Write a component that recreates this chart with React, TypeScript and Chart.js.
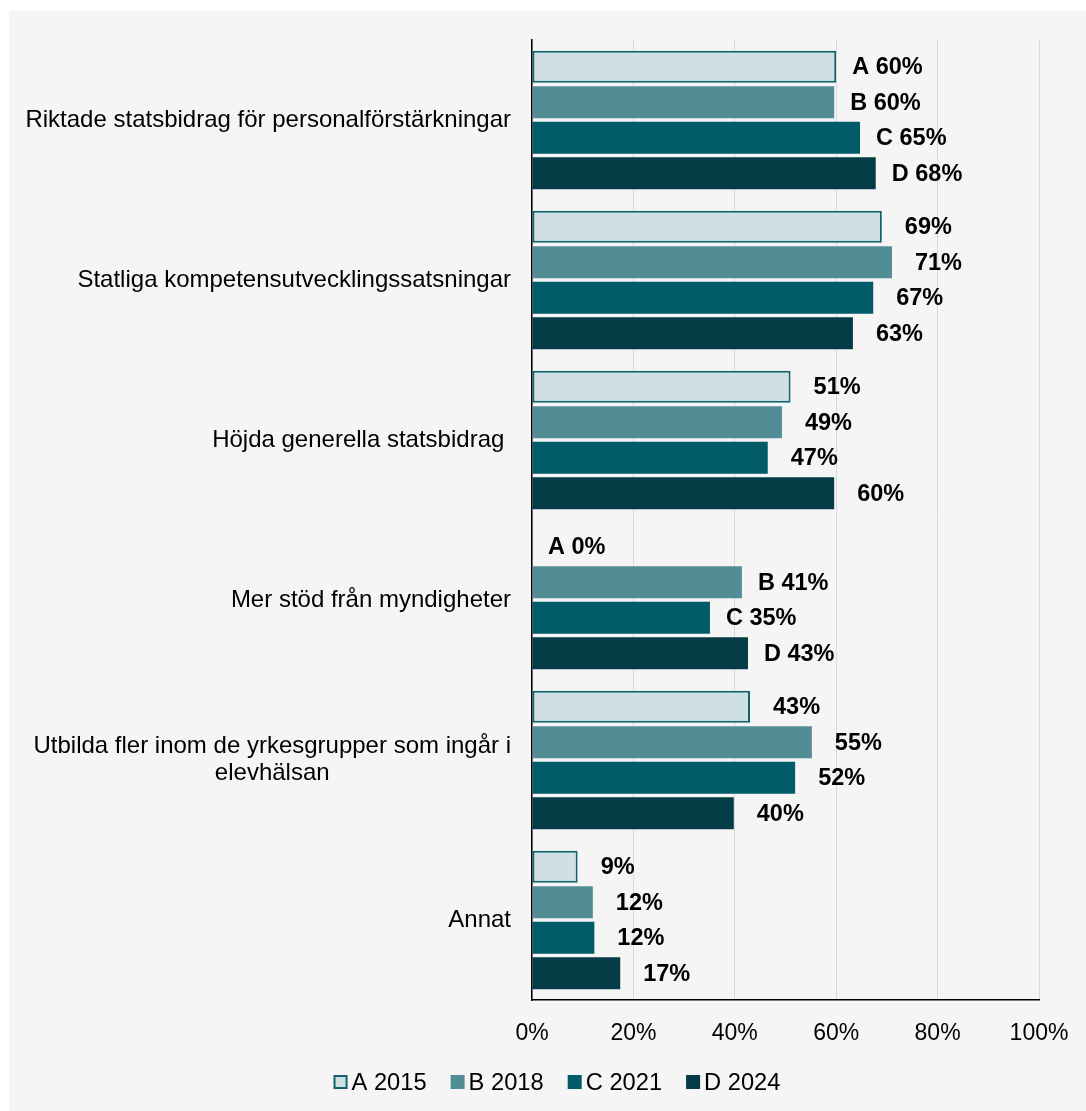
import React, { useEffect, useRef } from "react";
import { Chart, registerables } from "chart.js";

Chart.register(...registerables);

const categories = [
  "Riktade statsbidrag för personalförstärkningar",
  "Statliga kompetensutvecklingssatsningar",
  "Höjda generella statsbidrag ",
  "Mer stöd från myndigheter",
  "Utbilda fler inom de yrkesgrupper som ingår i\nelevhälsan",
  "Annat",
];
const seriesNames = ["A 2015", "B 2018", "C 2021", "D 2024"];
const seriesLetters = ["A", "B", "C", "D"];
const valuesA = [60, 69, 51, 0, 43, 9];
const valuesB = [59.6, 71, 49.3, 41.4, 55.2, 12];
const valuesC = [64.7, 67.3, 46.5, 35.1, 51.9, 12.3];
const valuesD = [67.8, 63.3, 59.6, 42.6, 39.8, 17.4];
const showLetter = [true, false, false, true, false, false];
const xTicks = [0, 20, 40, 60, 80, 100];

const fills = ["#cfe0e4", "#528d95", "#025b68", "#033c45"];
const borders = ["#13636f", "#528d95", "#025b68", "#033c45"];
const borderWidths = [2, 0, 0, 0];

const FONT = '"Liberation Sans", Arial, sans-serif';

const labelPlugin = {
  id: "valueLabels",
  afterDatasetsDraw(chart: any) {
    const ctx = chart.ctx;
    ctx.save();
    ctx.font = `bold 23.5px ${FONT}`;
    ctx.fillStyle = "#000";
    ctx.textAlign = "left";
    ctx.textBaseline = "middle";
    chart.data.datasets.forEach((ds: any, di: number) => {
      const meta = chart.getDatasetMeta(di);
      meta.data.forEach((el: any, i: number) => {
        const v = ds.data[i];
        const letter = showLetter[i];
        const txt = (letter ? seriesLetters[di] + " " : "") + Math.round(v) + "%";
        const off = letter ? 16 : 23;
        ctx.fillText(txt, el.x + off, el.y + 1);
      });
    });
    ctx.restore();
  },
};

const categoryPlugin = {
  id: "categoryLabels",
  afterDraw(chart: any) {
    const ctx = chart.ctx;
    const y = chart.scales.y;
    ctx.save();
    ctx.font = `24px ${FONT}`;
    ctx.fillStyle = "#000";
    ctx.textAlign = "center";
    ctx.textBaseline = "middle";
    const right = 502;
    const lh = 27;
    categories.forEach((c, i) => {
      const lines = c.split("\n");
      const maxW = Math.max(...lines.map((l) => ctx.measureText(l).width));
      const cx = right - maxW / 2;
      const cy = y.getPixelForValue(i);
      const startY = cy - ((lines.length - 1) * lh) / 2;
      lines.forEach((l, li) => ctx.fillText(l, cx, startY + li * lh));
    });
    ctx.restore();
  },
};

const legendPlugin = {
  id: "customLegend",
  afterDraw(chart: any) {
    const ctx = chart.ctx;
    ctx.save();
    ctx.font = `23.7px ${FONT}`;
    ctx.textBaseline = "middle";
    ctx.textAlign = "left";
    const box = 14;
    const gap = 4;
    const itemGap = 24;
    const widths = seriesNames.map((n) => box + gap + ctx.measureText(n).width);
    const total = widths.reduce((a, b) => a + b, 0) + itemGap * (seriesNames.length - 1);
    let x = 548 - total / 2;
    const cy = 1071;
    seriesNames.forEach((n, i) => {
      ctx.fillStyle = fills[i];
      ctx.fillRect(x, cy - box / 2, box, box);
      if (borderWidths[i] > 0) {
        ctx.strokeStyle = borders[i];
        ctx.lineWidth = 2;
        ctx.strokeRect(x + 1, cy - box / 2 + 1, box - 2, box - 2);
      }
      ctx.fillStyle = "#000";
      ctx.fillText(n, x + box + gap, cy + 1);
      x += widths[i] + itemGap;
    });
    ctx.restore();
  },
};

export default function App() {
  const ref = useRef<HTMLCanvasElement | null>(null);
  useEffect(() => {
    if (!ref.current) return;
    const seriesValues = [valuesA, valuesB, valuesC, valuesD];
    const chart = new Chart(ref.current, {
      type: "bar",
      data: {
        labels: categories,
        datasets: seriesValues.map((vals, i) => ({
          label: seriesNames[i],
          data: vals,
          backgroundColor: fills[i],
          borderColor: borders[i],
          borderWidth: borderWidths[i],
          borderSkipped: false,
          categoryPercentage: 0.8875,
          barPercentage: 0.9,
        })),
      },
      options: {
        indexAxis: "y",
        animation: false,
        responsive: false,
        maintainAspectRatio: false,
        layout: { padding: { top: 29, right: 47, left: 0, bottom: 0 } },
        plugins: {
          legend: { display: false },
          tooltip: { enabled: false },
        },
        scales: {
          x: {
            min: 0,
            max: 100,
            afterBuildTicks: (s: any) => {
              s.ticks = xTicks.map((v) => ({ value: v }));
            },
            afterFit: (s: any) => {
              s.height = 111;
              s.paddingLeft = 0;
              s.paddingRight = 0;
            },
            ticks: {
              callback: (v: any) => v + "%",
              font: { family: FONT, size: 23 },
              color: "#000",
              padding: 20,
              maxRotation: 0,
            },
            grid: { color: "#d9d9d9", lineWidth: 1, drawTicks: false },
            border: { display: true, color: "#000", width: 1.5 },
          },
          y: {
            afterFit: (s: any) => {
              s.width = 523;
              s.paddingTop = 0;
              s.paddingBottom = 0;
            },
            ticks: { display: false },
            grid: { display: false, drawTicks: false },
            border: { display: true, color: "#000", width: 1.5 },
          },
        },
      },
      plugins: [labelPlugin, categoryPlugin, legendPlugin],
    } as any);
    return () => chart.destroy();
  }, []);
  return (
    <div
      style={{
        position: "absolute",
        left: 9,
        top: 11,
        width: 1077,
        height: 1100,
        background: "#f5f5f5",
      }}
    >
      <canvas ref={ref} width={1077} height={1100} style={{ display: "block" }} />
    </div>
  );
}
